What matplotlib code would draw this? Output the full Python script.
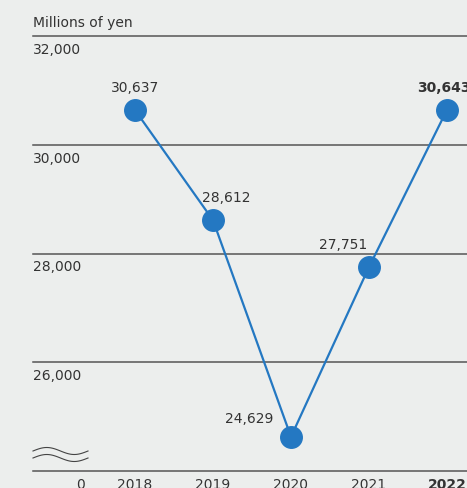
import matplotlib.pyplot as plt
import numpy as np

years = ['2018', '2019', '2020', '2021', '2022']
values = [30637, 28612, 24629, 27751, 30643]
value_labels = ['30,637', '28,612', '24,629', '27,751', '30,643']
grid_vals = [26000, 28000, 30000, 32000]
grid_labels = ['26,000', '28,000', '30,000', '32,000']

bg = '#eceeed'
blue = '#2478c2'
txt = '#333333'
fs = 10

fig = plt.figure(figsize=(4.67, 4.89), dpi=100, facecolor=bg)
W, H = 467, 489
ax = fig.add_axes([33 / W, (H - 472) / H, (467 - 33) / W, (472 - 37) / H])
ax.set_facecolor(bg)

x = np.arange(len(years))
ax.set_xlim(-102 / 78, (467 - 135) / 78)
ax.set_ylim(24000, 32000)

for s in ax.spines.values():
    s.set_visible(False)
ax.set_xticks([])
ax.set_yticks([])

# grid lines + labels
for v, lab in zip(grid_vals, grid_labels):
    ax.axhline(v, color='#555555', lw=1.1, zorder=1, clip_on=False)
    ax.annotate(lab, xy=(0, v), xycoords=('axes fraction', 'data'),
                xytext=(0, -6), textcoords='offset pixels',
                ha='left', va='top', fontsize=fs, color=txt)
ax.axhline(24000, color='#555555', lw=1.1, zorder=1, clip_on=False)

ax.annotate('Millions of yen', xy=(0, 1), xycoords='axes fraction',
            xytext=(0, 7), textcoords='offset pixels',
            ha='left', va='bottom', fontsize=fs, color=txt)

ax.plot(x, values, color=blue, lw=1.6, marker='o', markersize=15.5,
        zorder=3, clip_on=False)

offsets = [(0, 16, 'center'), (13, 16, 'center'), (-18, 12, 'right'),
           (-26, 16, 'center'), (-3, 16, 'center')]
for i, (v, lab) in enumerate(zip(values, value_labels)):
    dx, dy, ha = offsets[i]
    ax.annotate(lab, xy=(x[i], v), xytext=(dx, dy), textcoords='offset pixels',
                ha=ha, va='bottom', fontsize=fs, color=txt,
                fontweight='bold' if i == len(values) - 1 else 'normal',
                annotation_clip=False)

# x labels below baseline
for i, y in enumerate(years):
    ax.annotate(y, xy=(x[i], 24000), xytext=(0, -6), textcoords='offset pixels',
                ha='center', va='top', fontsize=fs, color=txt,
                fontweight='bold' if i == len(years) - 1 else 'normal',
                annotation_clip=False)
ax.annotate('0', xy=(-0.705, 24000), xytext=(0, -6), textcoords='offset pixels',
            ha='center', va='top', fontsize=fs, color=txt, annotation_clip=False)

# axis break squiggle
t = np.linspace(0, 1, 60)
xs = 33 + t * 55
for y0 in (452, 459):
    ys = y0 + 3.5 * np.sin(t * 2 * np.pi + np.pi)
    fig.lines.append(plt.Line2D(xs / W, 1 - ys / H, color='#444444', lw=0.8,
                                transform=fig.transFigure))

fig.savefig('out.png', dpi=100, facecolor=bg)
